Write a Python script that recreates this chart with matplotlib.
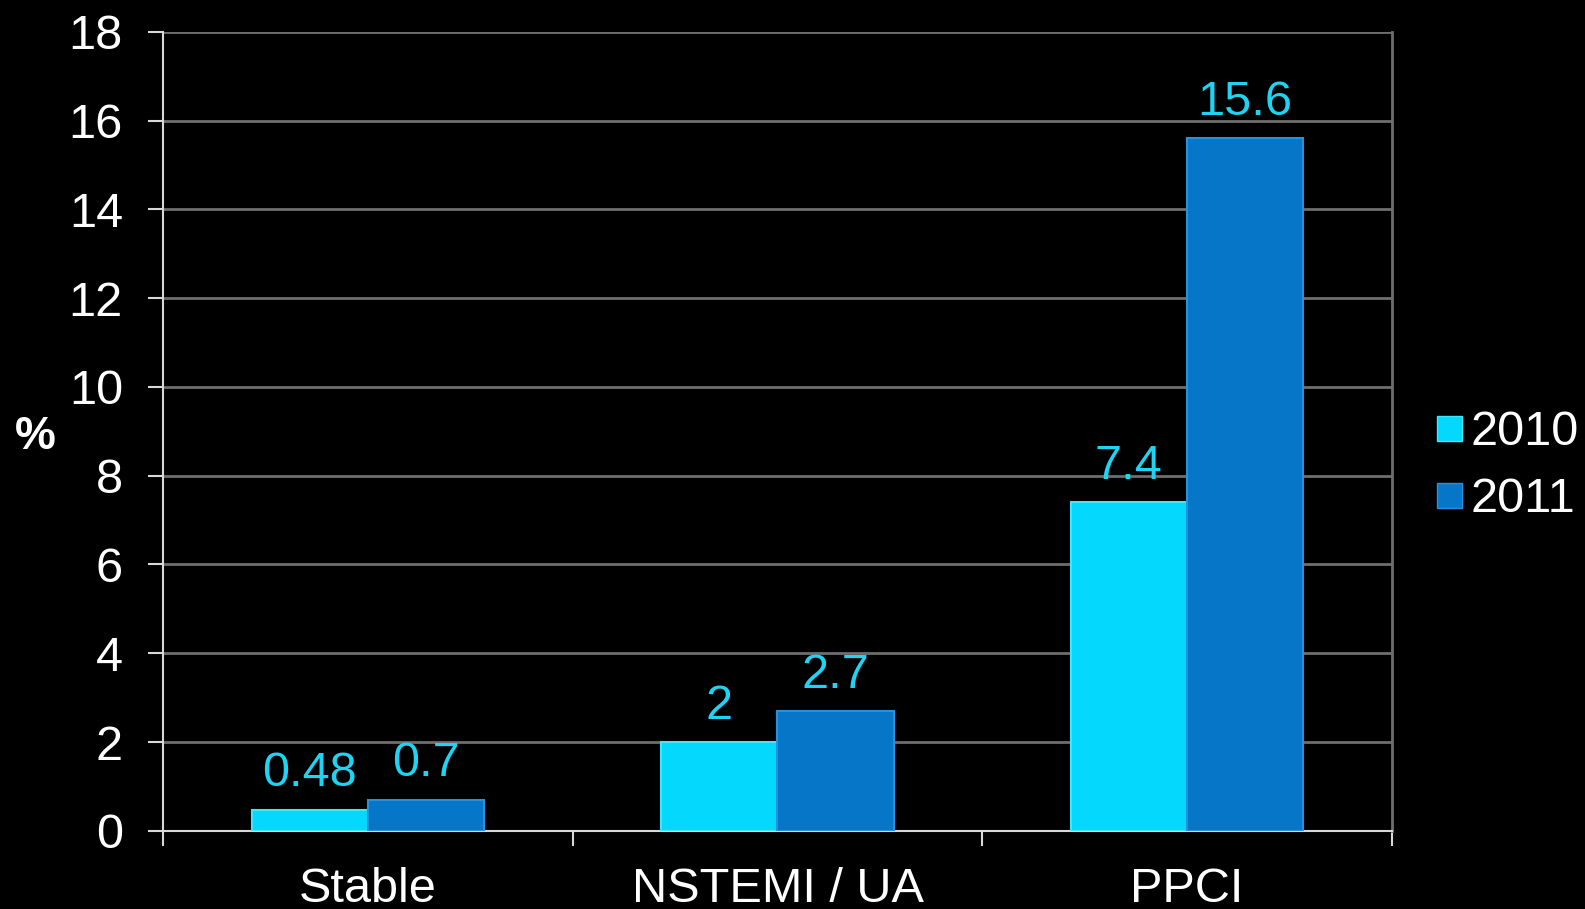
import numpy as np
import matplotlib.pyplot as plt
from matplotlib.lines import Line2D

plt.rcParams['font.family'] = ['Liberation Sans', 'DejaVu Sans']

categories = ['Stable', 'NSTEMI / UA', 'PPCI']
series = ['2010', '2011']
values_2010 = [0.48, 2, 7.4]
values_2011 = [0.7, 2.7, 15.6]
labels_2010 = ['0.48', '2', '7.4']
labels_2011 = ['0.7', '2.7', '15.6']

c2010 = '#05d8fd'
c2011 = '#0676c9'
lab_col = '#1fd3f2'
grid_col = '#6e6e6e'
axis_col = '#d8d8d8'

fig = plt.figure(figsize=(15.85, 9.09), dpi=100, facecolor='black')
ax = fig.add_axes([0.103, 0.086, 0.775, 0.879])
ax.set_facecolor('black')

x = np.arange(len(categories))
w = 0.284
b1 = ax.bar(x - w / 2, values_2010, w, color=c2010, edgecolor='#3fe6ff', linewidth=1.5, zorder=3)
b2 = ax.bar(x + w / 2, values_2011, w, color=c2011, edgecolor='#2a8fdc', linewidth=1.5, zorder=3)

# value labels above each bar
for bars, labs in ((b1, labels_2010), (b2, labels_2011)):
    for r, t in zip(bars, labs):
        ax.text(r.get_x() + r.get_width() / 2, r.get_height() + 0.3, t,
                ha='center', va='bottom', color=lab_col, fontsize=35, zorder=4)

ax.set_xlim(-0.5, 2.5)
ax.set_ylim(0, 18)
ax.set_yticks(np.arange(0, 19, 2))
ax.yaxis.grid(True, color=grid_col, linewidth=2, zorder=0)
ax.set_xticks(x)
ax.set_xticklabels(categories)
ax.set_xticks([-0.5, 0.5, 1.5, 2.5], minor=True)
ax.tick_params(axis='x', which='major', length=0, pad=26, labelsize=35, labelcolor='white')
ax.tick_params(axis='x', which='minor', length=11, width=1.5, color=axis_col, direction='out')
ax.tick_params(axis='y', length=11, width=1.5, color=axis_col, labelsize=35, labelcolor='white', pad=18)

ax.spines['top'].set_visible(False)
ax.spines['right'].set_color(grid_col)
ax.spines['right'].set_linewidth(2)
for s in ['left', 'bottom']:
    ax.spines[s].set_color(axis_col)
    ax.spines[s].set_linewidth(1.5)

ax.set_ylabel('%', rotation=0, color='white', fontsize=33, fontweight='bold')
ax.yaxis.set_label_coords(-0.104, 0.465)

handles = [Line2D([], [], marker='s', linestyle='none', markersize=18,
                  markerfacecolor=c2010, markeredgecolor='#3fe6ff'),
           Line2D([], [], marker='s', linestyle='none', markersize=18,
                  markerfacecolor=c2011, markeredgecolor='#2a8fdc')]
leg = ax.legend(handles, series, loc='center left', bbox_to_anchor=(1.015, 0.457),
                frameon=False, fontsize=35, labelcolor='white',
                handlelength=0.6, handletextpad=0.15, labelspacing=0.45, borderpad=0)

fig.savefig('out.png', facecolor='black')
